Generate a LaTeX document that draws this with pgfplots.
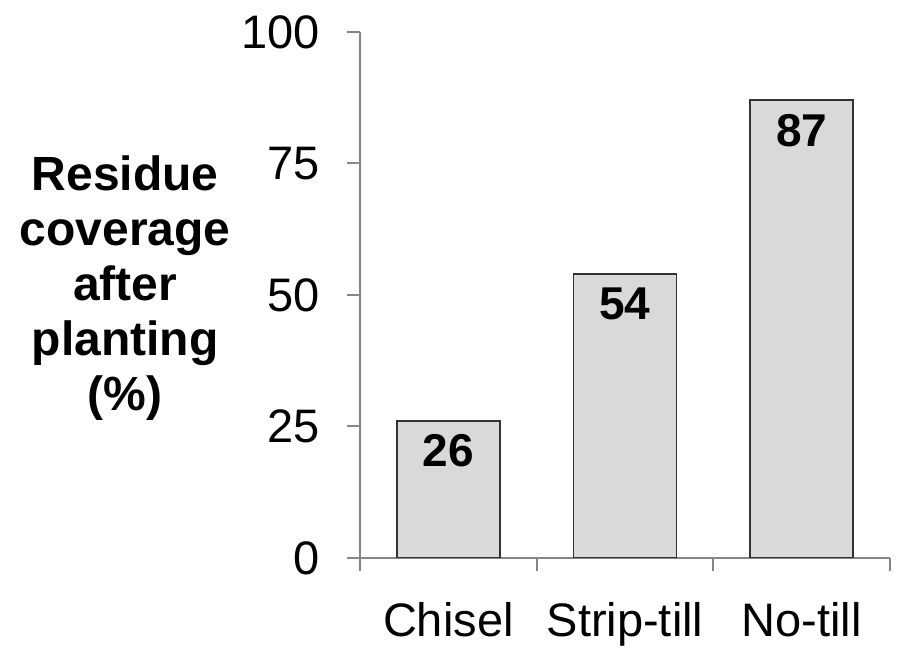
\documentclass[border=0pt]{standalone}
\usepackage{pgfplots}
\pgfplotsset{compat=1.18}
\usepackage{fontspec}
\setmainfont{Liberation Sans}
\definecolor{barfill}{HTML}{D9D9D9}
\definecolor{axgrey}{HTML}{868686}
\begin{document}
\begin{tikzpicture}
\useasboundingbox (0,0) rectangle (448.5bp,327.5bp);
\begin{axis}[
  at={(180bp,48.5bp)}, anchor=south west,
  scale only axis, width=265bp, height=263bp,
  axis x line*=bottom, axis y line*=left,
  axis line style={axgrey, line width=1bp},
  xmin=-0.5, xmax=2.5, ymin=0, ymax=100,
  ytick={0,25,50,75,100},
  xtick={0,1,2},
  xticklabels={Chisel,Strip-till,No-till},
  x tick style={draw=none},
  extra x ticks={-0.5,0.5,1.5,2.5},
  extra x tick labels={},
  extra x tick style={x tick style={draw=axgrey, line width=1bp}, major tick length=6.5bp, tick align=outside},
  y tick style={draw=axgrey, line width=1bp},
  major tick length=6.5bp, tick align=outside,
  tick label style={font=\fontsize{23.5bp}{28bp}\selectfont},
  /pgf/number format/assume math mode=true,
  xticklabel style={yshift=-12bp},
  yticklabel style={xshift=-10bp},
  ylabel={\textbf{Residue}\\\textbf{coverage}\\\textbf{after}\\\textbf{planting}\\\textbf{(\%)}},
  ylabel style={rotate=-90, align=center, font=\fontsize{24bp}{27.5bp}\selectfont, at={(axis description cs:-0.443,0.513)}, anchor=center},
  ybar, bar width=51.5bp,
  nodes near coords,
  every node near coord/.append style={anchor=north, yshift=-3bp, font=\fontsize{23bp}{28bp}\selectfont\bfseries, /pgf/number format/assume math mode=true},
]
\addplot[fill=barfill, draw=black!80, line width=0.9bp] coordinates {(0,26) (1,54) (2,87)};
\end{axis}
\end{tikzpicture}
\end{document}
